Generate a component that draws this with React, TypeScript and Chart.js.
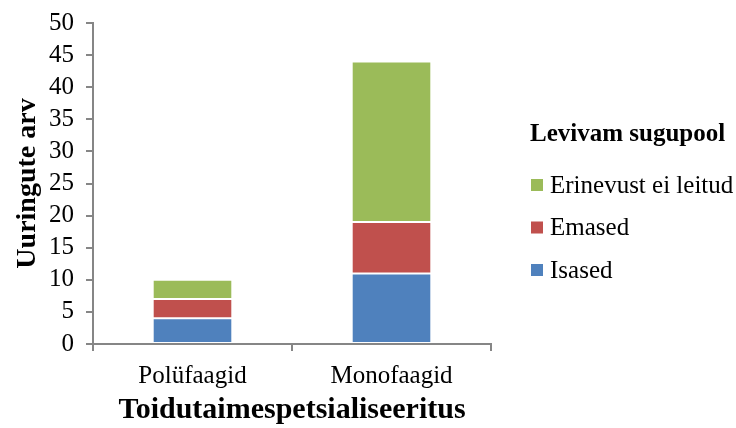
import { useEffect, useRef } from "react";
import { Chart, registerables } from "chart.js";

Chart.register(...registerables);

// Data
const categories = ["Polüfaagid", "Monofaagid"];
const isased = [4, 11];
const emased = [3, 8];
const erinevustEiLeitud = [3, 25];
const seriesLabels = ["Isased", "Emased", "Erinevust ei leitud"];
const seriesColors = ["#4F81BD", "#C0504D", "#9BBB59"];
const yMin = 0;
const yMax = 50;
const yStep = 5;

// Text
const xTitle = "Toidutaimespetsialiseeritus";
const yTitle = "Uuringute arv";
const legendTitle = "Levivam sugupool";

const FONT = '"Liberation Serif", "Times New Roman", serif';
const AXIS_GRAY = "#868686";

// Legend drawn at the right of the plot, in reverse series order
const sideLegend = {
  id: "sideLegend",
  afterDraw(chart: any) {
    const ctx = chart.ctx as CanvasRenderingContext2D;
    const area = chart.chartArea;
    const x0 = area.right + 40;
    ctx.save();
    ctx.textAlign = "left";
    ctx.textBaseline = "middle";
    ctx.fillStyle = "#000";
    ctx.font = `bold 25px ${FONT}`;
    ctx.fillText(legendTitle, x0 - 1, 135);
    const items = chart.data.datasets.slice().reverse();
    items.forEach((ds: any, i: number) => {
      const y = 185 + i * 42.5;
      ctx.fillStyle = ds.backgroundColor;
      ctx.fillRect(x0, y - 6, 12, 12);
      ctx.fillStyle = "#000";
      ctx.font = `25px ${FONT}`;
      ctx.fillText(ds.label, x0 + 19, y + 1);
    });
    ctx.restore();
  },
};

export default function App() {
  const canvasRef = useRef<HTMLCanvasElement | null>(null);

  useEffect(() => {
    if (!canvasRef.current) return;
    const values = [isased, emased, erinevustEiLeitud];
    const chart = new Chart(canvasRef.current, {
      type: "bar",
      data: {
        labels: categories,
        datasets: values.map((v, i) => ({
          label: seriesLabels[i],
          data: v,
          backgroundColor: seriesColors[i],
          borderColor: "rgba(255,255,255,0.5)",
          borderWidth: 1,
          borderSkipped: false,
          categoryPercentage: 0.4,
          barPercentage: 1.0,
        })),
      },
      options: {
        animation: false,
        responsive: false,
        devicePixelRatio: 1,
        layout: { padding: { left: 0, right: 245, top: 23, bottom: 0 } },
        plugins: {
          legend: { display: false },
          tooltip: { enabled: false },
        },
        scales: {
          x: {
            stacked: true,
            grid: {
              offset: true,
              drawOnChartArea: false,
              drawTicks: true,
              tickLength: 7,
              color: AXIS_GRAY,
              lineWidth: 2,
            },
            border: { color: AXIS_GRAY, width: 2 },
            ticks: {
              color: "#000",
              font: { family: FONT, size: 25 },
              padding: 10,
            },
            title: {
              display: true,
              text: xTitle,
              color: "#000",
              font: { family: FONT, size: 30, weight: "bold" },
              padding: { top: 2, bottom: 0 },
            },
            afterFit: (s: any) => {
              s.height = 84;
            },
          },
          y: {
            stacked: true,
            min: yMin,
            max: yMax,
            grid: {
              drawOnChartArea: false,
              drawTicks: true,
              tickLength: 7,
              color: AXIS_GRAY,
              lineWidth: 2,
            },
            border: { color: AXIS_GRAY, width: 2 },
            ticks: {
              stepSize: yStep,
              autoSkip: false,
              color: "#000",
              font: { family: FONT, size: 25 },
              padding: 12,
            },
            title: {
              display: true,
              text: yTitle,
              color: "#000",
              font: { family: FONT, size: 28, weight: "bold" },
              padding: { top: 11, bottom: 0 },
            },
            afterFit: (s: any) => {
              s.width = 93;
              s.paddingTop = 0;
            },
          },
        },
      } as any,
      plugins: [sideLegend],
    });
    return () => chart.destroy();
  }, []);

  return (
    <div style={{ position: "fixed", left: 0, top: 0, width: 736, height: 428, background: "#fff" }}>
      <canvas ref={canvasRef} width={736} height={428} />
    </div>
  );
}
